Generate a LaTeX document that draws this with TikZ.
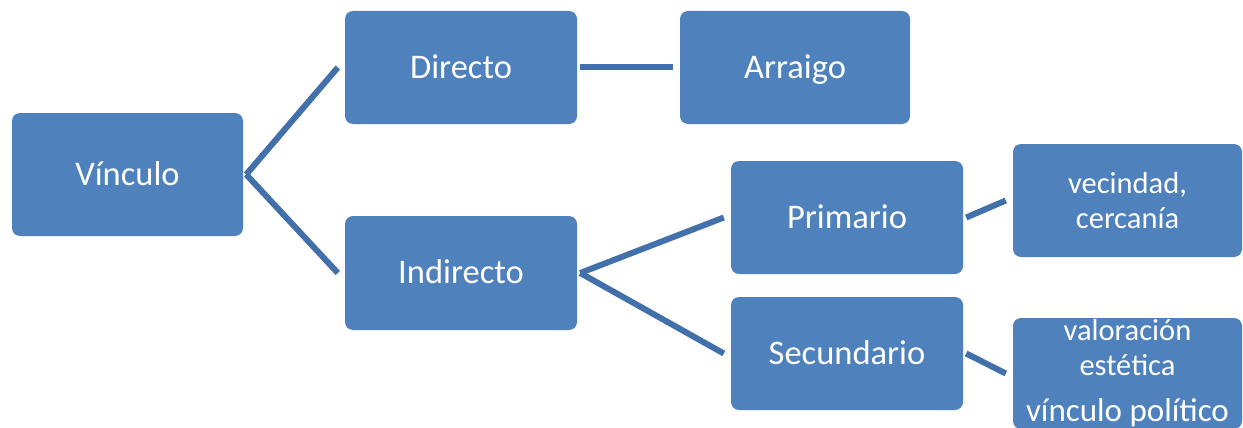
\documentclass[tikz,border=0pt]{standalone}
\usepackage{fontspec}
\setmainfont{Carlito}
\usetikzlibrary{calc}
\definecolor{boxblue}{HTML}{4F81BD}
\definecolor{lineblue}{HTML}{4170AB}
\tikzset{
  box/.style={fill=boxblue,text=white,rounded corners=8pt,inner sep=0pt,
    minimum width=232pt,minimum height=113pt,align=center,
    font=\fontsize{34.5}{40}\selectfont},
  oneline/.style={text height=25pt,text depth=4pt},
  small/.style={font=\fontsize{30.5}{35}\selectfont,minimum width=229pt},
  link/.style={draw=lineblue,line width=6pt}
}

\begin{document}
\begin{tikzpicture}[x=1pt,y=-1pt]
\useasboundingbox (0,0) rectangle (1243,428);

\node[box,oneline,minimum width=231pt,minimum height=123pt] (V) at (127.5,174.5) {Vínculo};
\node[box,oneline] (D) at (461,67.5) {Directo};
\node[box,oneline,minimum width=230pt] (A) at (795,67.5) {Arraigo};
\node[box,oneline,minimum height=114pt] (I) at (461,273) {Indirecto};
\node[box,oneline] (P) at (847,217.5) {Primario};
\node[box,oneline] (S) at (847,353.5) {Secundario};
\node[box,small] (N) at (1127.5,200.5) {vecindad,\\cercanía};
\node[box,small,minimum height=111pt] (E) at (1127.5,373.5)
  {valoración\\estética\\[11pt]{\fontsize{33}{36}\selectfont vínculo político}};

\foreach \from/\to in {V/D,V/I,D/A,I/P,I/S,P/N,S/E}
  \draw[link] ($(\from.east)+(3,0)$) -- ($(\to.west)+(-7,0)$);

\end{tikzpicture}
\end{document}
